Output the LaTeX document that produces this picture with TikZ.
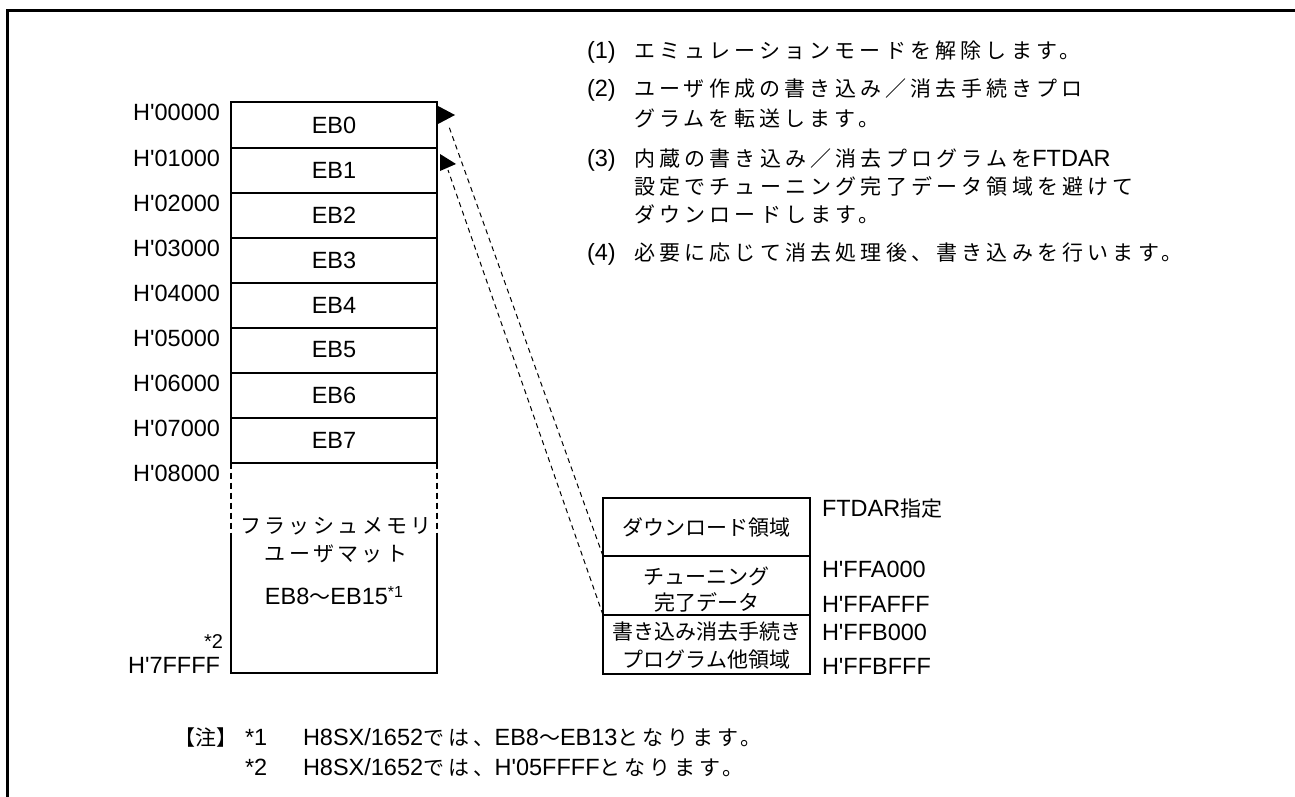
\documentclass[tikz,border=0pt]{standalone}
\usepackage{fontspec}
\setmainfont[Ligatures=TeXOff]{Liberation Sans}
\newfontfamily\cjkf{Noto Sans CJK JP}
\newfontfamily\cjkwf[LetterSpace=20]{Noto Sans CJK JP}
\newfontfamily\cjkmf[LetterSpace=16]{Noto Sans CJK JP}
\newcommand\Lt{\fontsize{23.5}{28}\selectfont}
\newcommand\Jp[1]{{\cjkf\fontsize{21}{26}\selectfont #1}}
\newcommand\Jw[1]{{\cjkwf\fontsize{21}{26}\selectfont #1}}
\newcommand\Jm[1]{{\cjkmf\fontsize{21}{26}\selectfont #1}}
\begin{document}
\begin{tikzpicture}[x=1pt,y=-1pt,
  every node/.style={inner sep=0pt,outer sep=0pt,font=\Lt},
  row/.style={draw,line width=2pt,minimum width=206pt,minimum height=45pt,anchor=north west},
  rrow/.style={draw,line width=2pt,minimum width=207pt,anchor=north west},
  addr/.style={anchor=base east},
  lab/.style={anchor=base west},
  conn/.style={line width=1pt,dash pattern=on 5pt off 4pt},
  side/.style={line width=2pt},
]
\useasboundingbox (0,0) rectangle (1295,797);
\draw[line width=3pt] (7,797) -- (7,11) -- (1295,11);

% memory map rows
\node[row] (eb0) at (231,102.5) {EB0};
\node[row] (eb1) at (231,147.5) {EB1};
\node[row] (eb2) at (231,192.5) {EB2};
\node[row] (eb3) at (231,237.5) {EB3};
\node[row] (eb4) at (231,282.5) {EB4};
\node[row] (eb5) at (231,327.5) {EB5};
\node[row] (eb6) at (231,372.5) {EB6};
\node[row] (eb7) at (231,417.5) {EB7};

% addresses
\node[addr] (a0) at (220,121) {H'00000};
\node[addr] (a1) at (220,166) {H'01000};
\node[addr] (a2) at (220,211) {H'02000};
\node[addr] (a3) at (220,256) {H'03000};
\node[addr] (a4) at (220,301) {H'04000};
\node[addr] (a5) at (220,346) {H'05000};
\node[addr] (a6) at (220,391) {H'06000};
\node[addr] (a7) at (220,436) {H'07000};
\node[addr] (a8) at (220,481) {H'08000};
\node[addr,font=\fontsize{20}{20}\selectfont] (s2a) at (223,648) {*2};
\node[addr] (a9) at (220,673) {H'7FFFF};

% user mat region
\coordinate (dl1) at (231,537);
\coordinate (dr1) at (437,537);
\coordinate (bl) at (231,673);
\coordinate (br) at (437,673);
\draw[side,dash pattern=on 6pt off 4pt] (eb7.south west) -- (dl1);
\draw[side,dash pattern=on 6pt off 4pt] (eb7.south east) -- (dr1);
\draw[side,line join=miter] (dl1) -- (bl) -- (br) -- (dr1);
\node (fm1) at (336,526) {\Jm{フラッシュメモリ}};
\node (fm2) at (336,554) {\Jm{ユーザマット}};
\node (fm3) at (334,596) {EB8\Jp{～}EB15\raisebox{7pt}{\fontsize{16}{16}\selectfont *1}};

% RAM area
\node[rrow,minimum height=58pt] (dl) at (603,498) {};
\node[rrow,minimum height=59pt] (tu) at (603,556) {};
\node[rrow,minimum height=59pt] (pg) at (603,615) {};
\node (dlt) at (dl.center) {\Jp{ダウンロード領域}};
\node[align=center,font=\fontsize{21}{26}\selectfont] (tut) at ([yshift=-4pt]tu.center) {\Jp{チューニング}\\\Jp{完了データ}};
\node[align=center,font=\fontsize{21}{28}\selectfont] (pgt) at ([yshift=-1.5pt]pg.center) {\Jp{書き込み消去手続き}\\\Jp{プログラム他領域}};

\node[lab] (r0) at (822,516) {FTDAR\Jp{指定}};
\node[lab] (r1) at (822,577) {H'FFA000};
\node[lab] (r2) at (822,612) {H'FFAFFF};
\node[lab] (r3) at (822,640) {H'FFB000};
\node[lab] (r4) at (822,674) {H'FFBFFF};

% transfer arrows
\coordinate (t0) at (448,124);
\coordinate (t1) at (448,170);
\draw[conn] (tu.north west) -- (t0);
\draw[conn] (pg.north west) -- (t1);
\fill (438,106) -- (438,124) -- (455,115) -- cycle;
\fill (440,154) -- (440,171) -- (456,164) -- cycle;

% steps
\node[lab] (n1) at (587,59) {(1)};
\node[lab] (l1) at (634,59) {\Jw{エミュレーションモードを解除します。}};
\node[lab] (n2) at (587,97) {(2)};
\node[lab] (l2a) at (634,97) {\Jw{ユーザ作成の書き込み／消去手続きプロ}};
\node[lab] (l2b) at (634,127) {\Jw{グラムを転送します。}};
\node[lab] (n3) at (587,166) {(3)};
\node[lab] (l3a) at (634,166) {\Jw{内蔵の書き込み／消去プログラムを}FTDAR};
\node[lab] (l3b) at (634,194) {\Jw{設定でチューニング完了データ領域を避けて}};
\node[lab] (l3c) at (634,222) {\Jw{ダウンロードします。}};
\node[lab] (n4) at (587,260) {(4)};
\node[lab] (l4) at (634,260) {\Jw{必要に応じて消去処理後、書き込みを行います。}};

% notes
\node[lab] (nz) at (174,745) {\Jp{【注】}};
\node[lab] (s1) at (245,745) {*1};
\node[lab] (m1) at (303,745) {H8SX/1652\Jw{では、}EB8\Jw{～}EB13\Jw{となります。}};
\node[lab] (s2) at (245,775) {*2};
\node[lab] (m2) at (303,775) {H8SX/1652\Jw{では、}H'05FFFF\Jw{となります。}};
\end{tikzpicture}
\end{document}
